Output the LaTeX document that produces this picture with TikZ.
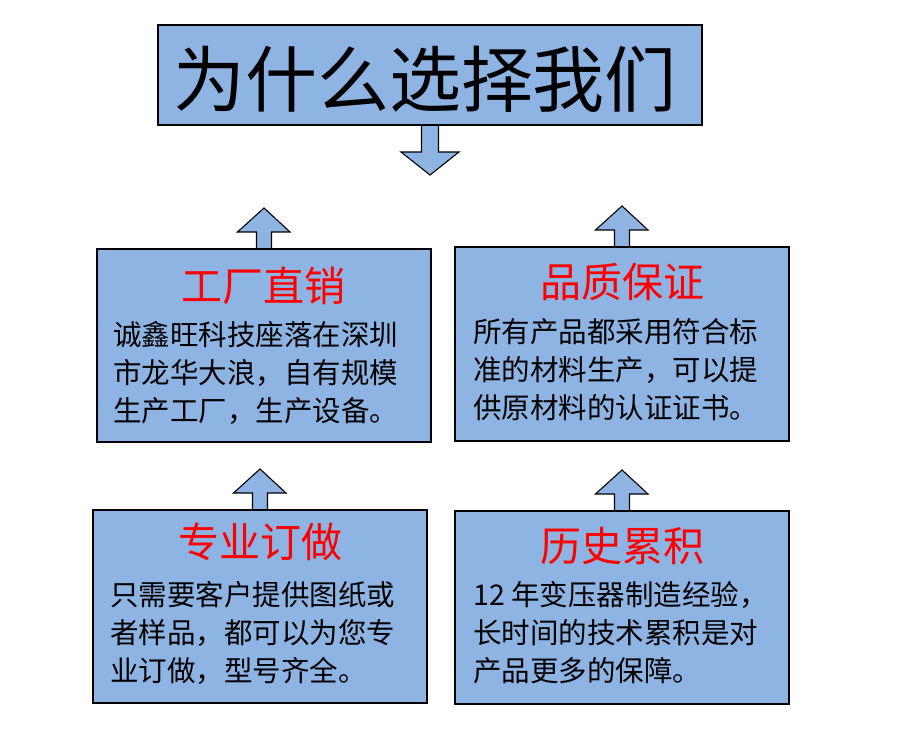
\documentclass[tikz,border=0pt]{standalone}
\usepackage{fontspec}
\newfontfamily\cjk{Noto Sans CJK SC}
\usetikzlibrary{calc}
\definecolor{boxblue}{HTML}{8EB4E3}
\definecolor{titlered}{HTML}{FF0000}
\pgfdeclarelayer{bg}
\pgfsetlayers{bg,main}
\begin{document}
\begin{tikzpicture}[x=1pt,y=-1pt,
  panel/.style={draw=black, line width=1.3pt, fill=boxblue, rectangle, anchor=north west, inner sep=0pt, outer sep=0pt},
  blockarrow/.style={draw=black, line width=1.1pt, fill=boxblue, line join=miter},
  redhead/.style={text=titlered, font=\cjk\fontsize{41}{44}\selectfont, inner sep=0pt},
  bodytext/.style={font=\cjk\fontsize{28.5}{38}\selectfont, align=left, anchor=north west, inner sep=0pt},
  bigtitle/.style={font=\cjk\fontsize{72}{74}\selectfont, inner sep=0pt}
]
\useasboundingbox (0,0) rectangle (922,733);

% boxes
\node[panel, minimum width=544pt, minimum height=100pt] (title) at (158,25) {};
\node[panel, minimum width=334pt, minimum height=193pt] (b1) at (97,249) {};
\node[panel, minimum width=334pt, minimum height=194pt] (b2) at (455,247) {};
\node[panel, minimum width=334pt, minimum height=193pt] (b3) at (93,510) {};
\node[panel, minimum width=334pt, minimum height=193pt] (b4) at (455,511) {};

% block arrows
\begin{pgfonlayer}{bg}
\draw[blockarrow] ($(title.south)+(-8.5,0)$) -- ++(0,27) -- ++(-20.5,0)
   -- ($(title.south)+(0,50)$) -- ($(title.south)+(29,27)$) -- ++(-20.5,0)
   -- ($(title.south)+(8.5,0)$) -- cycle;
\foreach \b in {b1,b2,b3,b4}{
  \draw[blockarrow] ($(\b.north)+(-7.5,0)$) -- ++(0,-17) -- ++(-19,0)
     -- ($(\b.north)+(0,-41)$) -- ($(\b.north)+(26,-17)$) -- ++(-18.5,0)
     -- ($(\b.north)+(7.5,0)$) -- cycle;
}
\end{pgfonlayer}

% texts
\node[bigtitle] (tt) at ($(title.center)+(-5,4)$) {为什么选择我们};

\node[redhead] (h1) at ($(b1.north)+(-1,37)$) {工厂直销};
\node[redhead] (h2) at ($(b2.north)+(0,35)$) {品质保证};
\node[redhead] (h3) at ($(b3.north)+(0,32)$) {专业订做};
\node[redhead] (h4) at ($(b4.north)+(0,35)$) {历史累积};

\node[bodytext] (t1) at (113,321) {诚鑫旺科技座落在深圳\\市龙华大浪，自有规模\\生产工厂，生产设备。};
\node[bodytext] (t2) at (473,318) {所有产品都采用符合标\\准的材料生产，可以提\\供原材料的认证证书。};
\node[bodytext] (t3) at (110,581) {只需要客户提供图纸或\\者样品，都可以为您专\\业订做，型号齐全。};
\node[bodytext] (t4) at (473,581) {12 年变压器制造经验，\\长时间的技术累积是对\\产品更多的保障。};
\end{tikzpicture}
\end{document}
